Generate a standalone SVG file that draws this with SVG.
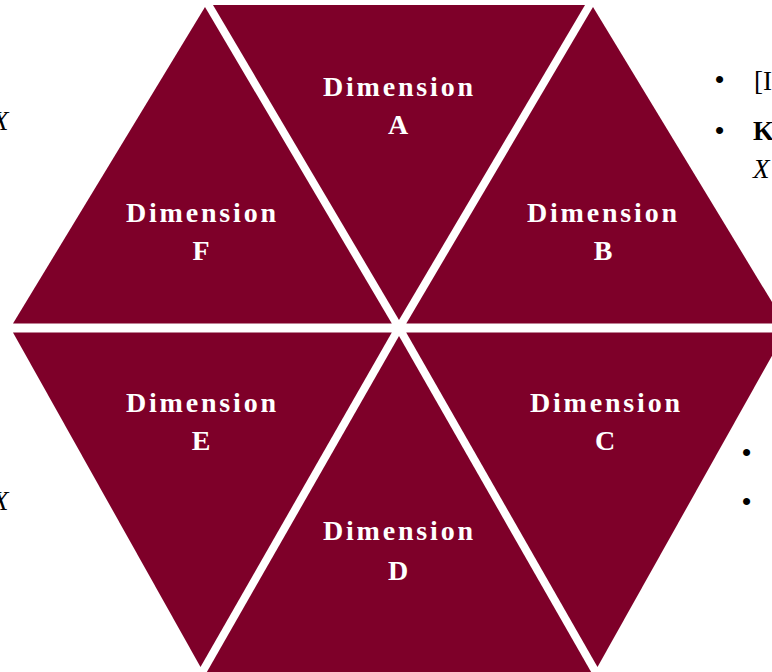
<svg xmlns="http://www.w3.org/2000/svg" width="772" height="672" viewBox="0 0 772 672">
<style>
.tri{fill:#7E0029;}
.lbl{font-family:"Liberation Serif","DejaVu Serif",serif;font-weight:bold;font-size:28px;fill:#FFFFFF;text-anchor:middle;}
.side{font-family:"Liberation Serif","DejaVu Serif",serif;font-size:27px;fill:#000000;}
.bul{font-family:"Liberation Sans","DejaVu Sans",sans-serif;font-size:26px;fill:#000000;}
.it{font-style:italic;}
.bd{font-weight:bold;}
</style>
<rect width="772" height="672" fill="#FFFFFF"/>
<g id="connectors"></g>
<g id="dimA">
<polygon class="tri" points="213,5 585,5 399,320"/>
<text class="lbl" x="398" y="96" textLength="150" lengthAdjust="spacing">Dimension</text>
<text class="lbl" x="398" y="134">A</text>
</g>
<g id="dimB">
<polygon class="tri" points="406.3,323.5 593,7 785,323.5"/>
<text class="lbl" x="602" y="222" textLength="150" lengthAdjust="spacing">Dimension</text>
<text class="lbl" x="603" y="260">B</text>
</g>
<g id="dimC">
<polygon class="tri" points="406.2,332.5 785,332.5 597.5,667"/>
<text class="lbl" x="605" y="412" textLength="150" lengthAdjust="spacing">Dimension</text>
<text class="lbl" x="605" y="450">C</text>
</g>
<g id="dimD">
<polygon class="tri" points="399,336 593.4,676 204.6,676"/>
<text class="lbl" x="398" y="540" textLength="150" lengthAdjust="spacing">Dimension</text>
<text class="lbl" x="398" y="580">D</text>
</g>
<g id="dimE">
<polygon class="tri" points="13,332.5 391.8,332.5 200.5,667"/>
<text class="lbl" x="201" y="412" textLength="150" lengthAdjust="spacing">Dimension</text>
<text class="lbl" x="201" y="450">E</text>
</g>
<g id="dimF">
<polygon class="tri" points="13,323.5 391.8,323.5 205,7"/>
<text class="lbl" x="201" y="222" textLength="150" lengthAdjust="spacing">Dimension</text>
<text class="lbl" x="201" y="260">F</text>
</g>
<g id="sidetext">
<text class="side it" x="-8" y="130" font-size="30">X</text>
<text class="side it" x="-8" y="510" font-size="30">X</text>
<text class="bul" x="715" y="88">•</text>
<text class="side" x="754" y="90">[I</text>
<text class="bul" x="715" y="139">•</text>
<text class="side bd" x="753" y="140">K</text>
<text class="side it" x="753" y="178" font-size="29">X</text>
<text class="bul" x="742" y="461">•</text>
<text class="bul" x="742" y="510">•</text>
</g>
</svg>
